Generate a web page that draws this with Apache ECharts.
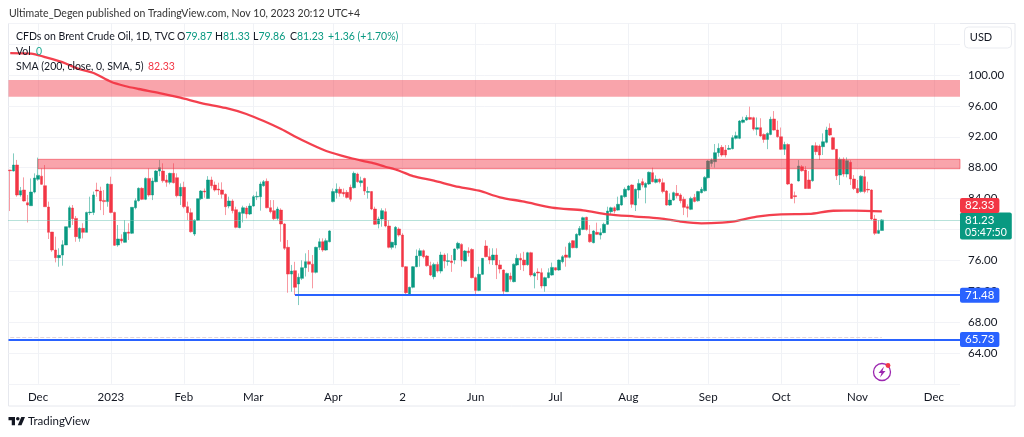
<!DOCTYPE html>
<html>
<head>
<meta charset="utf-8">
<style>
  html, body { margin: 0; padding: 0; background: #fff; }
  #main { width: 1024px; height: 437px; }
</style>
<script src="https://cdn.jsdelivr.net/npm/echarts@6/dist/echarts.min.js"></script>
</head>
<body>
<div id="main"></div>
<script>
// one row per trading day: open, close, low, high
const candles = [
  [87.69,87.6,82.38,87.72],[87.57,88.34,87.5,89.85],[88.34,84.46,84.24,89],[84.46,85.02,84.24,85.5],[85.1,83.68,83.6,86.74],
  [83.46,83.16,80.9,84.46],[83.07,84.84,83.07,86.6],[84.84,86.66,84.67,87.26],[86.5,87,86.3,89.3],[86.9,85.84,85.75,87.9],
  [85.66,82.94,82.94,88.34],[82.9,79.62,78.76,83.6],[79.66,77.33,77.1,79.66],[77.33,76.34,75.73,79.06],[76.34,76.64,75.17,77.55],
  [76.68,78,75.3,78.6],[77.98,80.35,77.98,80.35],[80.27,82.81,80.14,83.07],[82.77,81.39,80.57,83.16],[81.43,79.06,78.4,81.74],
  [78.84,80.14,78.4,80.27],[80.14,79.62,78.84,80.8],[79.62,82.2,79.62,82.3],[82.17,82.25,81.86,84.24],[82.2,84.46,81.86,84.9],
  [85.1,84.97,84.24,86.05],[84.97,83.68,82.5,85.53],[83.76,83.6,81.86,85.1],[83.6,85.88,82.94,85.96],[85.84,82.2,82.08,86.83],
  [82.2,77.94,77.85,82.3],[77.98,78.76,77.76,80.57],[78.76,78.5,78.2,79.36],[78.33,79.62,78.28,81.2],[79.66,79.5,78.63,80.8],
  [79.5,82.86,79.4,82.86],[82.81,83.72,82.6,84.02],[83.72,85.32,83.6,85.45],[85.32,83.9,83.8,85.45],[83.9,86.6,83.8,86.74],
  [86.6,84.46,84.24,87.9],[84.46,86.27,83.8,86.7],[86.18,87.56,86.1,87.69],[87.56,88,86.9,89],[87.56,86.3,86.05,88.56],
  [86.4,86.1,85.53,87.05],[86.1,87.26,85.84,87.35],[87.26,86.05,85.96,88.56],[86.7,84.37,84.15,87.26],[84.33,85.45,83.16,85.96],
  [85.45,82.94,82.73,86.18],[82.94,82.17,81.2,83.6],[82.17,79.7,79.58,82.73],[79.4,81.2,79.15,81.3],[81.2,83.98,81.1,84],
  [83.98,84.97,83.8,85.1],[84.97,84.85,84.1,85.3],[84,86.4,83.94,86.9],[86.4,85.66,85.3,86.83],[85.75,85.1,84.9,86.2],
  [85.23,85.1,84.46,86.05],[85.1,84.55,84,86.1],[84.55,82.94,81.86,84.67],[83.03,83.68,82.73,84.24],[83.68,82.43,82.08,83.9],
  [82.55,80.27,80.14,82.94],[80.23,82.2,80.14,82.3],
  [82.08,82.81,80.9,83.07],[82.77,82,81.43,83.03],[82,83.03,81.86,83.38],[83.03,84.24,82.94,84.46],[84.2,84.28,83.8,84.9],
  [84.24,85.88,82.43,86.18],[85.66,86.18,85.53,86.4],[86.23,82.81,82.73,86.6],[82.81,82.3,82.08,83.8],[82.43,81.39,81.2,83.8],
  [81.43,82.64,81.2,82.94],[82.5,80.7,78.4,82.73],[80.7,77.55,77.33,80.8],[77.68,74.22,71.8,78.63],[74.22,74.6,71.93,75.4],
  [74.65,72.5,71.5,75.8],[72.93,73.8,70.2,74.3],[73.66,75.04,73.44,76],[75.04,75.82,73.9,76.9],[75.82,75.5,74.5,77.33],
  [75.5,74.44,72.37,76.68],[74.44,77.68,74.3,77.76],[77.68,78.4,77.33,78.84],[78.4,77.33,77.1,78.84],[77.33,78.54,77.24,78.84],
  [78.4,79.8,78.33,79.9],[83.6,84.9,83.5,85.3],[84.76,85.2,84,85.96],[85.2,84.67,84.24,85.53],[84.8,84.6,84.24,85.3],
  [84.8,84.15,84,85.1],[85.45,83.9,83.6,85.8],[85.4,87.26,85.3,87.5],[87.17,86.18,86.05,87.35],[86.05,86.3,85.53,86.83],
  [86.6,84.97,84.46,86.7],[84.8,84.9,84,85.53],[84.9,82.64,82.5,84.97],[82.64,80.66,80.57,82.94],[80.7,81.35,80.14,81.65],
  [81.35,82.43,80.35,82.73],[82.3,80.44,80.27,82.73],[80.44,77.68,77.55,81.2],[77.68,78.33,77.4,78.4],[77.98,80.27,77.55,80.44],
  [80.05,79.27,79.06,80.27],[79.27,75.17,75.09,79.5],[75.17,71.8,71.63,75.25],[71.5,72.5,71.46,72.58],[72.5,75.17,72.37,75.25],
  [75.17,76.55,75.1,77.4],[76.6,77.24,75.17,77.55],[77.24,76.47,76.25,77.4],[76.55,75.3,75.17,76.68],[75.3,74.1,73.96,75.82],
  [73.88,75.47,73.53,75.7],[75.47,74.6,74.4,75.82],[74.6,76.68,74.3,77.1],[76.68,75.9,74.96,76.9],[75.85,75.95,75.3,76.9],
  [75.9,75.7,74.5,76.68],[76.03,77.46,75.5,77.55],[77.55,78.2,77.33,78.4],[78.06,76.03,75.17,78.2],[75.9,77.2,75.82,77.33],
  [77.2,76.98,76.47,77.68],[77.4,73.75,73.66,77.55],[73.75,72.1,71.5,73.9],[72.1,74.18,72,75.17],
  [74.18,76.25,74.1,76.3],[77.85,76.47,76.38,78.6],[76.47,76.04,75.5,77.55],[76.03,76.68,75.4,77.55],[76.68,75.4,73.57,77.55],
  [75.4,74.87,74.3,76.03],[74.74,72,71.63,74.8],[71.93,74.3,71.9,74.4],[73.96,73.53,73.23,74.4],[73.23,75.5,73.14,75.6],
  [75.4,76.25,75.26,76.77],[76.25,76.03,74.74,76.9],[76.03,75.4,74.6,77.1],[75.43,76.98,75.3,77.1],[76.98,74.09,73.87,77.1],
  [73.96,74.3,72.36,74.5],[74.48,74.35,73.44,74.96],[74.4,72.67,72.36,74.96],[72.67,73.75,71.93,73.87],[73.75,74.4,73.66,74.96],
  [74.09,75.08,74,75.7],[75.04,74.74,74.65,75.1],[74.74,76.03,74.65,76.1],[75.82,76.47,75.6,76.68],[76.68,76.38,75.17,77.76],
  [76.38,78.2,76.25,78.4],[78.54,77.63,77.55,78.63],[77.63,79.36,77.55,79.5],[79.27,80.13,79.14,80.44],[80,81.52,79.9,81.65],
  [81.56,80,79.83,81.65],[79.36,78.4,78.28,80.57],[78.28,79.79,78.2,79.9],[79.62,79.36,79.27,80.87],[79.27,79.58,78.7,80.14],
  [79.58,80.66,79.5,80.87],[80.66,82.38,80.57,82.94],[82.3,82.8,81.86,82.94],[82.8,82.38,82.08,83],[82.5,83.25,82.43,84.24],
  [83.16,84.37,83.07,84.46],[84.24,85.2,84.1,85.45],[85.1,85.62,85.02,85.75],[85.75,83.25,82.8,85.84],[83.16,85.2,82.38,85.3],
  [85.1,85.96,84.02,86.5],[86.18,85.75,85.45,86.6],[85.45,85.96,83.38,86.1],[85.88,87.4,85.75,87.5],[87.35,86.18,86.1,88],
  [86.1,86.5,85.96,87],[86.5,86.18,85.96,86.6],[86.05,84.9,84.67,86.6],[84.97,83.16,83.07,85.1],[83.16,83.8,83.03,84.67],
  [83.8,84.76,83.7,84.9],[84.67,84.37,84.02,85.75],[84.46,83.72,83.38,84.67],[83.9,82.86,81.86,84.24],[82.94,82.73,81.56,83.25],
  [82.6,84.02,82.5,84.24],[84.15,83.63,83.5,84.6],[83.7,84.9,83.6,85],[84.76,85.2,84.67,85.5],[85,86.74,84.9,86.9],
  [86.7,88.86,86.6,88.98],[88.55,88.98,88.12,89.2],[88.77,89.94,88,91.06],[89.94,90.5,89.42,91.15],
  [90.63,89.64,89.42,90.93],[90.28,89.64,89.33,90.93],[90.37,90.5,90.28,90.93],[90.46,91.88,90.37,92.2],[91.8,92.14,91.66,92.66],
  [91.8,94.04,91.7,94.17],[93.87,94.17,93.74,94.6],[94.17,94.5,94.08,94.8],[94.5,94.26,94.17,95.9],[94.47,93,92.8,94.6],
  [92.96,93.18,92.2,94.5],[93.18,92.1,92,94.4],[92.3,91.66,91.23,92.44],[91.66,92.44,90.4,92.57],[92.3,94.26,92.2,94.6],
  [94.3,92.87,92.8,95.33],[92.87,92,91.9,94.08],[92,90.37,90.28,93.2],[90.37,91,89.64,91.36],[91,85.88,85.75,91.15],
  [85.88,84.02,83.94,85.96],[84.37,84.24,83.38,84.9],[86.27,88.21,86.2,88.98],[88.12,87.6,87.48,88.34],[87.69,85.3,85.23,88.2],
  [86.4,85.3,85.23,87.56],[86.31,90.84,86.18,90.93],[90.84,90.07,89.64,91.28],[90.8,89.64,89,91],[90.72,91.36,89.64,92.44],
  [91.28,92.87,91.15,93.3],[93.09,92.23,92.1,93.74],[91.88,90.37,90.28,92],[90.37,86.96,86.4,90.42],[87.04,89.07,85.75,89.33],
  [89.07,87.17,86.83,89.33],[87.17,88.9,86.74,89.33],[88.69,86.53,85.75,88.98],[86.53,85.3,85.1,87.04],[85.3,84.76,84.67,86.4],
  [84.9,86.9,84.76,87],[86.83,84.9,84.67,87.69],[85.19,85.1,84.76,86.18],[85.1,81.35,81.2,85.2],[81.35,79.49,79.27,81.87],
  [79.49,79.87,79.4,81.2],[79.87,81.23,79.86,81.33]
];
const emptyBars = 22;

const monthIndex = [8, 29, 50, 70, 93, 113, 134, 157, 178, 201, 222, 244, 266];
const monthLabels = ['Dec', '2023', 'Feb', 'Mar', 'Apr', '2', 'Jun', 'Jul', 'Aug', 'Sep', 'Oct', 'Nov', 'Dec'];

// SMA 200 read at spots along the curve
const smaIndex = [0, 6, 10, 15, 19, 24, 29, 33, 37, 43, 49, 55, 62, 68, 73, 78, 84, 91, 98, 104, 108, 112, 116, 122, 128, 135,
  141, 148, 156, 165, 172, 180, 187, 193, 199, 205, 208, 215, 222, 230, 237, 243, 251];
const smaValues = [102.85, 102.78, 102.33, 101.68, 100.9, 100.26, 99.13, 98.58, 98.19, 97.67, 97.06, 96.37, 95.73, 94.95, 94.04, 93, 91.58,
  90.16, 89.25, 88.64, 88.12, 87.6, 86.9, 86.31, 85.62, 85.01, 84.16, 83.59, 82.81, 82.47, 81.96, 81.67, 81.44, 81.02, 80.79, 80.87, 81,
  81.65, 81.96, 82, 82.42, 82.43, 82.33];

const upperZone = [97.19, 99.35];
const lowerZone = [87.86, 89.08];
const lowerZoneStart = 8;
const supportStart = 82;
const supportHigh = 71.48;
const supportLow = 65.73;
const volumeLine = 66.03;
const lastClose = 81.23;
const lastSma = 82.33;
const countdown = '05:47:50';
const hiddenPriceLabels = [60, 104];

const RED = '#F23645';
const GREEN = '#089981';
const BLUE = '#2962FF';
const INK = '#131722';
const UI_FONT = 'Lato, sans-serif';
const TEXT_FONT = '10.5px ' + UI_FONT;
const PLOT_RIGHT = 960;

const total = candles.length + emptyBars;
const categories = Array.from({ length: total }, (_, i) => String(i));
const lastIndex = total - 1;
const lastCandle = candles.length - 1;

function tagLabel(text, bg, offset) {
  return {
    show: true,
    position: 'end',
    distance: 0,
    offset: offset || [0, 0],
    formatter: text,
    color: '#fff',
    backgroundColor: bg,
    padding: [1, 5],
    borderRadius: 2,
    fontFamily: UI_FONT,
    fontSize: 11.5,
    lineHeight: 13,
    align: 'left',
    rich: {
      small: { color: '#fff', fontFamily: UI_FONT, fontSize: 10.5, lineHeight: 12 }
    }
  };
}

function legendPiece(left, top, text, valueColor) {
  return {
    type: 'text', left, top, z: 20,
    style: { text, fill: INK, font: TEXT_FONT, rich: { v: { fill: valueColor || GREEN, font: TEXT_FONT } } }
  };
}

const chart = echarts.init(document.getElementById('main'));

const option = {
  animation: false,
  backgroundColor: '#fff',
  grid: { left: 8.5, right: 1024 - PLOT_RIGHT, top: 23, bottom: 53.2 },
  xAxis: {
    type: 'category',
    data: categories,
    boundaryGap: true,
    axisLine: { show: false },
    axisTick: { show: false },
    splitLine: { show: false },
    axisLabel: {
      interval: 0,
      margin: 7,
      color: INK,
      fontFamily: UI_FONT,
      fontSize: 11.5,
      formatter: (val, i) => {
        const at = monthIndex.indexOf(i);
        return at >= 0 ? monthLabels[at] : '';
      }
    }
  },
  yAxis: {
    type: 'value',
    position: 'right',
    min: 60,
    max: 106.74,
    interval: 4,
    axisLine: { show: false },
    axisTick: { show: false },
    splitLine: { lineStyle: { color: '#f2f3f7', width: 1 } },
    axisLabel: {
      margin: 8,
      color: INK,
      fontFamily: UI_FONT,
      fontSize: 11.5,
      showMaxLabel: false,
      formatter: (v) => (hiddenPriceLabels.includes(v) ? '' : v.toFixed(2))
    }
  },
  series: [
    {
      // month grid lines go through the candle centre, so they are drawn here
      name: 'months',
      type: 'line',
      data: [],
      silent: true,
      z: 0,
      markLine: {
        silent: true,
        symbol: 'none',
        z: 0,
        label: { show: false },
        lineStyle: { color: '#f0f2f6', width: 1, type: 'solid' },
        data: monthIndex.map((i) => ({ xAxis: i }))
      }
    },
    {
      name: 'CFDs on Brent Crude Oil',
      type: 'candlestick',
      data: candles,
      barWidth: 3,
      z: 2,
      itemStyle: {
        color: GREEN,
        color0: RED,
        borderColor: 'rgba(8,153,129,0.5)',
        borderColor0: 'rgba(242,54,69,0.5)',
        borderWidth: 1
      },
      markArea: {
        silent: true,
        z: 3,
        label: { show: false },
        itemStyle: { color: 'rgba(242,54,69,0.45)' },
        data: [
          [{ yAxis: upperZone[0] }, { yAxis: upperZone[1] }],
          [{ xAxis: lowerZoneStart, yAxis: lowerZone[0], itemStyle: { borderColor: 'rgba(242,54,69,0.55)', borderWidth: 1 } },
           { xAxis: lastIndex, x: PLOT_RIGHT, yAxis: lowerZone[1] }]
        ]
      },
      markLine: {
        silent: true,
        symbol: 'none',
        z: 6,
        lineStyle: { color: '#6fc4b4', width: 1, type: 'dotted' },
        label: { show: false },
        data: [
          { yAxis: lastClose, label: tagLabel(lastClose.toFixed(2) + '\n{small|' + countdown + '}', GREEN, [0, 6]) }
        ]
      }
    },
    {
      name: 'SMA (200, close, 0, SMA, 5)',
      type: 'line',
      data: smaIndex.map((i, k) => [i, smaValues[k]]),
      smooth: 0.3,
      showSymbol: false,
      z: 4,
      lineStyle: { color: RED, width: 2.3, opacity: 0.95 },
      markLine: {
        silent: true,
        symbol: 'none',
        z: 7,
        lineStyle: { color: 'transparent' },
        data: [
          // the tag sits above the green one instead of on its own level
          { yAxis: lastSma, label: tagLabel(lastSma.toFixed(2), RED, [0, -6]) }
        ]
      }
    },
    {
      name: 'levels',
      type: 'line',
      data: [],
      z: 5,
      markLine: {
        silent: true,
        symbol: 'none',
        z: 6,
        lineStyle: { color: BLUE, width: 2, type: 'solid' },
        data: [
          [{ xAxis: 0, yAxis: volumeLine, lineStyle: { color: '#e3d5da', width: 1, type: 'dashed' }, label: { show: false } },
           { xAxis: lastCandle, yAxis: volumeLine }],
          [{ xAxis: supportStart, yAxis: supportHigh, label: tagLabel(supportHigh.toFixed(2), BLUE) },
           { xAxis: lastIndex, x: PLOT_RIGHT, yAxis: supportHigh }],
          { yAxis: supportLow, label: tagLabel(supportLow.toFixed(2), BLUE) }
        ]
      }
    }
  ],
  graphic: [
    { type: 'text', left: 9, top: 8, style: { text: 'Ultimate_Degen published on TradingView.com, Nov 10, 2023 20:12 UTC+4', fill: '#333', font: TEXT_FONT } },
    { type: 'rect', z: -1, shape: { x: 8.5, y: 23.5, width: 1006.5, height: 382.5 }, style: { fill: 'none', stroke: '#e6e8ee', lineWidth: 1 } },
    legendPiece(16, 31, 'CFDs on Brent Crude Oil, 1D, TVC'),
    legendPiece(177, 31, 'O{v|79.87}'),
    legendPiece(215, 31, 'H{v|81.33}'),
    legendPiece(253, 31, 'L{v|79.86}'),
    legendPiece(290, 31, 'C{v|81.23}'),
    legendPiece(328, 31, '{v|+1.36 (+1.70%)}'),
    legendPiece(16, 46, 'Vol'),
    legendPiece(36, 46, '{v|0}', '#22ab94'),
    legendPiece(16, 61, 'SMA (200, close, 0, SMA, 5)'),
    legendPiece(148, 61, '{v|82.33}', RED),
    { type: 'rect', shape: { x: 964.5, y: 27, width: 47, height: 21, r: 4 }, style: { fill: '#fff', stroke: '#e9ebf0', lineWidth: 1 } },
    { type: 'text', x: 981, y: 37.5, style: { text: 'USD', fill: INK, font: '11px ' + UI_FONT, align: 'center', verticalAlign: 'middle' } },
    // bolt badge
    { type: 'circle', shape: { cx: 882, cy: 372, r: 8.5 }, style: { fill: '#fff', stroke: '#9C27B0', lineWidth: 1.3 } },
    { type: 'polygon', shape: { points: [[884, 366.5], [878.5, 373], [881.5, 373], [880, 377.5], [885.5, 371], [882.5, 371]] }, style: { fill: '#9C27B0' } },
    { type: 'circle', shape: { cx: 888, cy: 365.5, r: 2.4 }, style: { fill: RED } },
    // logo
    { type: 'polygon', shape: { points: [[8.5, 417], [15, 417], [15, 425.3], [11.76, 425.3], [11.76, 420.2], [8.5, 420.2]] }, style: { fill: INK } },
    { type: 'polygon', shape: { points: [[21.3, 417], [25, 417], [21.5, 425.3], [17.8, 425.3]] }, style: { fill: INK } },
    { type: 'circle', shape: { cx: 17.8, cy: 418.8, r: 1.8 }, style: { fill: INK } },
    { type: 'text', left: 28, top: 415, style: { text: 'TradingView', fill: INK, font: '11.5px ' + UI_FONT } }
  ]
};

chart.setOption(option);
</script>
</body>
</html>
